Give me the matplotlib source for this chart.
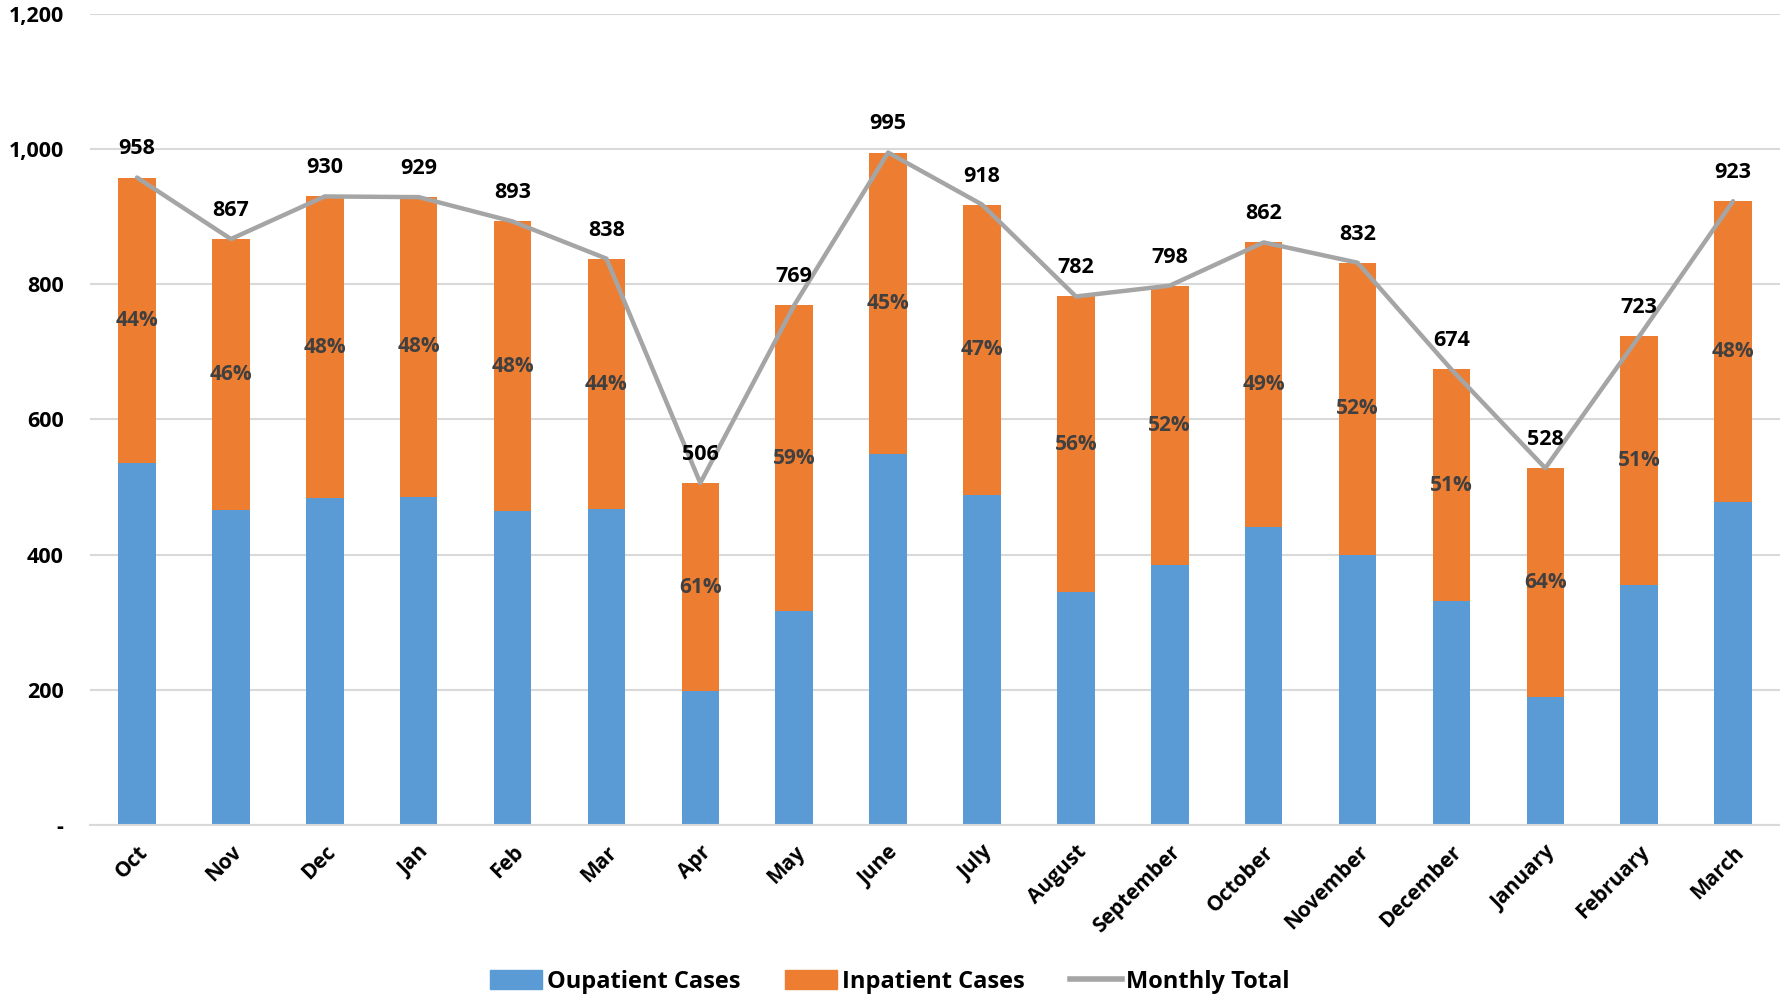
import matplotlib.pyplot as plt
import numpy as np
from matplotlib.patches import Patch
from matplotlib.lines import Line2D

months = ['Oct', 'Nov', 'Dec', 'Jan', 'Feb', 'Mar', 'Apr', 'May', 'June', 'July',
          'August', 'September', 'October', 'November', 'December', 'January',
          'February', 'March']
outpatient = [535, 466, 484, 486, 464, 467, 198, 317, 549, 488,
              345, 384, 441, 400, 331, 190, 355, 478]
inpatient = [423, 401, 446, 443, 429, 371, 308, 452, 446, 430,
             437, 414, 421, 432, 343, 338, 368, 445]

blue = '#5b9bd5'
orange = '#ed7d31'
gray = '#a5a5a5'

plt.rcParams['font.family'] = ['Open Sans', 'DejaVu Sans']

out = np.array(outpatient)
inp = np.array(inpatient)
total = out + inp
x = np.arange(len(months))

fig = plt.figure(figsize=(17.8, 9.97), dpi=100)
ax = fig.add_axes([0.0506, 0.1725, 0.9494, 0.8135])

ax.bar(x, out, width=0.4, color=blue, zorder=2)
ax.bar(x, inp, width=0.4, bottom=out, color=orange, zorder=2)
ax.plot(x, total, color=gray, lw=3.2, zorder=3, solid_capstyle='round')

#percent of inpatient in the middle of the orange segment
for i in range(len(x)):
    pct = round(inp[i] / total[i] * 100)
    ax.text(x[i], out[i] + inp[i] / 2, f'{pct}%', ha='center', va='center',
            fontsize=15, fontweight='bold', color='#404040', zorder=4)
    ax.annotate(f'{total[i]:,}', (x[i], total[i]), xytext=(0, 13),
                textcoords='offset points', ha='center', va='bottom',
                fontsize=15.5, fontweight='bold', color='black', zorder=4)

ax.set_xlim(-0.5, len(x) - 0.5)
ax.set_ylim(0, 1200)
ax.set_yticks(range(0, 1201, 200))
ax.set_yticklabels(['-' if v == 0 else f'{v:,}' for v in range(0, 1201, 200)],
                   fontsize=15.5, fontweight='bold')
ax.set_xticks(x)
ax.set_xticklabels(months, rotation=45, ha='right', rotation_mode='anchor',
                   fontsize=15, fontweight='bold')
ax.tick_params(axis='y', length=0, pad=19)
ax.tick_params(axis='x', length=0, pad=12)
ax.grid(axis='y', color='#d9d9d9', lw=1.5, zorder=0)
ax.set_axisbelow(True)
for s in ['top', 'right', 'left']:
    ax.spines[s].set_visible(False)
ax.spines['bottom'].set_color('#d9d9d9')
ax.spines['bottom'].set_linewidth(1.5)

handles = [Patch(color=blue, label='Oupatient Cases'),
           Patch(color=orange, label='Inpatient Cases'),
           Line2D([0], [0], color=gray, lw=4, label='Monthly Total')]
fig.legend(handles=handles, loc='lower center', bbox_to_anchor=(0.5, -0.018),
           ncol=3, frameon=False, prop={'size': 17, 'weight': 'bold'},
           handlelength=2.2, handleheight=0.9, columnspacing=1.9, handletextpad=0.2)

fig.savefig('out.png', dpi=100)
